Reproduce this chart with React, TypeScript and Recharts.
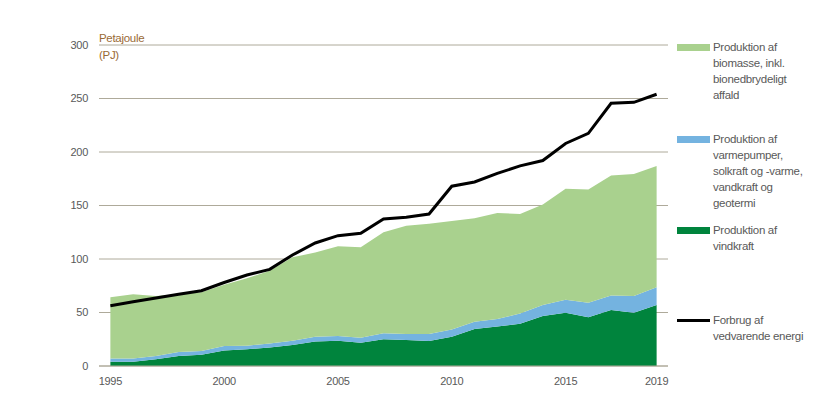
import React from 'react';
import {
  ComposedChart,
  Area,
  Line,
  XAxis,
  YAxis,
  CartesianGrid,
} from 'recharts';

// Years 1995-2019
const years = [
  1995, 1996, 1997, 1998, 1999, 2000, 2001, 2002, 2003, 2004, 2005, 2006,
  2007, 2008, 2009, 2010, 2011, 2012, 2013, 2014, 2015, 2016, 2017, 2018, 2019,
];

// Produktion af vindkraft (PJ)
const wind = [
  4.0, 4.0, 6.2, 9.3, 10.6, 14.6, 15.6, 17.4, 19.6, 23.0, 23.7, 21.8,
  25.0, 24.3, 23.4, 27.4, 34.6, 36.8, 39.6, 46.7, 49.8, 45.5, 52.3, 49.8, 57.0,
];

// Produktion af varmepumper, solkraft, vandkraft og geotermi (PJ)
const otherRenewables = [
  2.9, 2.9, 3.1, 3.7, 3.4, 4.1, 3.4, 3.6, 4.1, 4.4, 4.3, 4.7,
  5.5, 5.7, 6.6, 6.6, 6.8, 7.2, 9.4, 10.3, 12.2, 13.5, 13.7, 15.6, 16.5,
];

// Produktion af biomasse inkl. bionedbrydeligt affald (PJ)
const biomass = [
  57.3, 60.1, 56.1, 54.0, 55.0, 57.3, 63.0, 68.0, 77.9, 78.6, 84.0, 84.5,
  94.5, 101.0, 103.0, 101.5, 96.6, 99.0, 93.0, 94.0, 103.7, 106.0, 112.0, 114.0, 113.5,
];

// Forbrug af vedvarende energi (PJ)
const consumption = [
  56.4, 60.0, 63.5, 67.0, 70.4, 78.0, 85.0, 90.3, 103.7, 115.0, 121.8, 124.0,
  137.4, 139.0, 142.0, 168.0, 172.0, 180.0, 187.0, 192.0, 208.0, 217.4, 245.5, 246.4, 254.0,
];

const xTicks = [1995, 2000, 2005, 2010, 2015, 2019];
const yTicks = [0, 50, 100, 150, 200, 250, 300];

const data = years.map((year, i) => ({
  year,
  wind: wind[i],
  other: otherRenewables[i],
  biomass: biomass[i],
  consumption: consumption[i],
}));

const FONT = "'Liberation Sans', Arial, sans-serif";
const TEXT = '#595959';
const GRID = '#aeaa9a';

const legendItems = [
  { color: '#a9d18e', top: 39, lines: ['Produktion af', 'biomasse, inkl.', 'bionedbrydeligt', 'affald'], h: 7 },
  { color: '#74b3e0', top: 131, lines: ['Produktion af', 'varmepumper,', 'solkraft og -varme,', 'vandkraft og', 'geotermi'], h: 7 },
  { color: '#00843d', top: 222, lines: ['Produktion af', 'vindkraft'], h: 7 },
  { color: '#000000', top: 312, lines: ['Forbrug af', 'vedvarende energi'], h: 3 },
];

export default function App() {
  const tickStyle = { fontSize: 11, fill: TEXT, fontFamily: FONT, letterSpacing: '-0.3px' };
  return (
    <div style={{ position: 'relative', width: 836, height: 404, background: '#fff', fontFamily: FONT }}>
      <style>{`body{margin:0}`}</style>
      <ComposedChart
        width={836}
        height={404}
        data={data}
        margin={{ top: 45, right: 168, bottom: 8, left: 0 }}
      >
        <CartesianGrid vertical={false} stroke={GRID} strokeWidth={1} />
        <XAxis
          dataKey="year"
          type="number"
          domain={[1994.5, 2019.5]}
          ticks={xTicks}
          height={30}
          tickLine={false}
          axisLine={{ stroke: GRID }}
          tick={tickStyle}
          tickMargin={5}
        />
        <YAxis
          width={99}
          domain={[0, 300]}
          ticks={yTicks}
          tickLine={false}
          axisLine={false}
          tick={tickStyle}
          tickMargin={5}
        />
        <Area
          type="linear"
          dataKey="wind"
          stackId="prod"
          stroke="none"
          fill="#00843d"
          fillOpacity={1}
          isAnimationActive={false}
        />
        <Area
          type="linear"
          dataKey="other"
          stackId="prod"
          stroke="none"
          fill="#74b3e0"
          fillOpacity={1}
          isAnimationActive={false}
        />
        <Area
          type="linear"
          dataKey="biomass"
          stackId="prod"
          stroke="none"
          fill="#a9d18e"
          fillOpacity={1}
          isAnimationActive={false}
        />
        <Line
          type="linear"
          dataKey="consumption"
          stroke="#000000"
          strokeWidth={3}
          dot={false}
          isAnimationActive={false}
        />
      </ComposedChart>

      {/* unit label */}
      <div
        style={{
          position: 'absolute',
          left: 99,
          top: 30,
          fontSize: 11.5,
          lineHeight: '17px',
          color: '#9a6a35',
          letterSpacing: '-0.3px',
        }}
      >
        Petajoule
        <br />
        (PJ)
      </div>

      {/* legend */}
      {legendItems.map((item) => (
        <div key={item.lines[0] + item.top} style={{ position: 'absolute', left: 677, top: item.top }}>
          <div
            style={{
              position: 'absolute',
              left: 0,
              top: 8 - item.h / 2,
              width: 33,
              height: item.h,
              background: item.color,
            }}
          />
          <div
            style={{
              position: 'absolute',
              left: 36,
              top: 0,
              fontSize: 11.5,
              lineHeight: '16px',
              color: TEXT,
              whiteSpace: 'nowrap',
              letterSpacing: '-0.3px',
            }}
          >
            {item.lines.map((l) => (
              <div key={l}>{l}</div>
            ))}
          </div>
        </div>
      ))}
    </div>
  );
}
